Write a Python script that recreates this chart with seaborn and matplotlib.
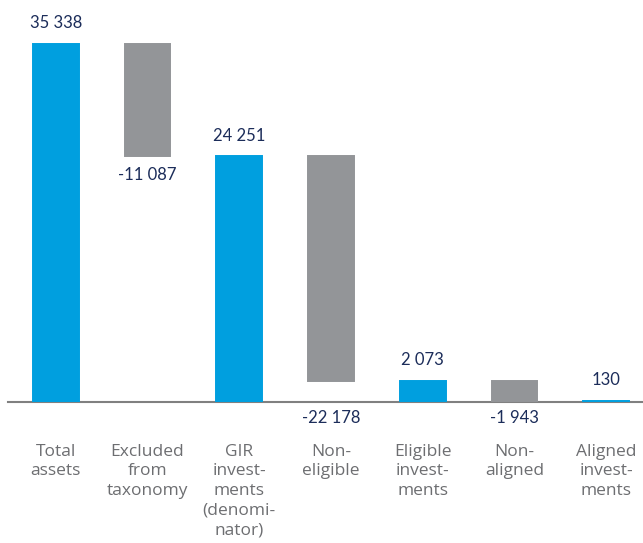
import matplotlib
matplotlib.use("Agg")
import matplotlib.pyplot as plt
import seaborn as sns
import numpy as np
import pandas as pd

# Waterfall: from total assets down to taxonomy-aligned investments
categories = [
    "Total\nassets",
    "Excluded\nfrom\ntaxonomy",
    "GIR\ninvest-\nments\n(denomi-\nnator)",
    "Non-\neligible",
    "Eligible\ninvest-\nments",
    "Non-\naligned",
    "Aligned\ninvest-\nments",
]
values = [35338, -11087, 24251, -22178, 2073, -1943, 130]
is_total = [True, False, True, False, True, False, True]
value_labels = ["35 338", "-11 087", "24 251", "-22 178", "2 073", "-1 943", "130"]

BLUE = "#009FDF"
GREY = "#939598"
NAVY = "#1C2D5A"
LABEL_GREY = "#6D6E71"

# Floating bar extents: totals start at zero, changes hang from the running level
bottoms, heights = [], []
level = 0
for v, tot in zip(values, is_total):
    if tot:
        bottoms.append(0)
        heights.append(v)
        level = v
    else:
        bottoms.append(level + v)
        heights.append(-v)
        level = level + v

df = pd.DataFrame({"category": categories, "height": heights, "bottom": bottoms})

sns.set_theme(style="white")
plt.rcParams["font.family"] = ["Lato", "DejaVu Sans"]

fig = plt.figure(figsize=(6.43, 5.43), dpi=100)
ax = fig.add_axes([0.0124, 0.2597, 0.9876, 0.7403])

sns.barplot(data=df, x="category", y="height", bottom=df["bottom"].to_numpy(),
            color=BLUE, width=0.5, saturation=1, ax=ax)
for patch, tot in zip(ax.patches, is_total):
    c = BLUE if tot else GREY
    patch.set_facecolor(c)
    patch.set_edgecolor(c)
    patch.set_linewidth(1.4)
    patch.set_zorder(3)

ax.set_xlim(-0.52, 6.40)
ax.set_ylim(0, 39681)

# Value labels: above totals, below changes (moved under the axis when the bar ends near it)
for i, (v, tot, b, h, txt) in enumerate(zip(values, is_total, bottoms, heights, value_labels)):
    if tot:
        ax.annotate(txt, (i, b + h), xytext=(0, 9), textcoords="offset points",
                    ha="center", va="bottom", fontsize=12, color=NAVY)
    elif b < 3000:
        ax.annotate(txt, (i, 0), xytext=(0, -6), textcoords="offset points",
                    ha="center", va="top", fontsize=12, color=NAVY)
    else:
        ax.annotate(txt, (i, b), xytext=(0, -8), textcoords="offset points",
                    ha="center", va="top", fontsize=12, color=NAVY)

ax.set_xlabel("")
ax.set_ylabel("")
ax.set_yticks([])
ax.set_xticks(np.arange(len(categories)), categories,
              fontfamily=["Open Sans", "DejaVu Sans"], fontsize=12.5,
              linespacing=1.3, va="top", color=LABEL_GREY)
ax.tick_params(axis="x", length=0, pad=30)

for side in ["top", "left", "right"]:
    ax.spines[side].set_visible(False)
ax.spines["bottom"].set_color("#808080")
ax.spines["bottom"].set_linewidth(1.5)
ax.spines["bottom"].set_zorder(2)

fig.savefig("out.png", dpi=100)
